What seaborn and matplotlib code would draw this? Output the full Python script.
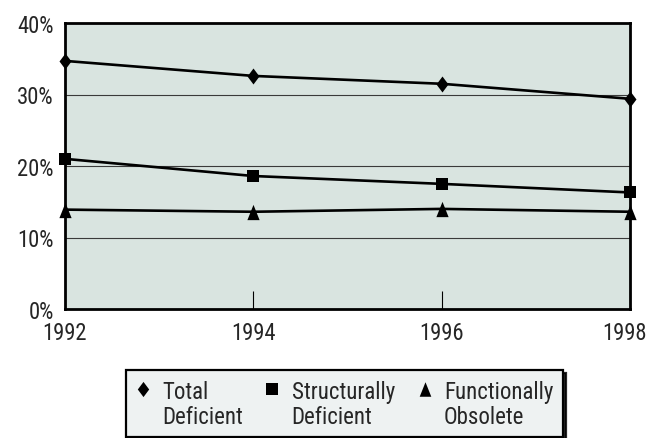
import matplotlib
matplotlib.use("Agg")
import matplotlib.pyplot as plt
from matplotlib import font_manager
from matplotlib.lines import Line2D
from matplotlib.legend_handler import HandlerLine2D
from matplotlib.path import Path
from matplotlib.transforms import ScaledTranslation
import numpy as np
import pandas as pd
import seaborn as sns

# Share of bridges rated deficient, by survey year
years = [1992, 1994, 1996, 1998]
total_deficient = [34.7, 32.6, 31.5, 29.4]
structurally_deficient = [21.0, 18.6, 17.5, 16.3]
functionally_obsolete = [13.9, 13.6, 14.0, 13.6]
series_names = ["Total\nDeficient", "Structurally\nDeficient", "Functionally\nObsolete"]
y_ticks = [0, 10, 20, 30, 40]
y_tick_labels = ["0%", "10%", "20%", "30%", "40%"]

sns.set_theme(style="white")


def narrow_font():
    """Return (family, stretch, is_narrow) of the best condensed sans face available."""
    fonts = font_manager.fontManager.ttflist
    by_name = {f.name: f for f in fonts}
    for name in ["Liberation Sans Narrow", "Arial Narrow", "Roboto Condensed",
                 "Open Sans Condensed", "Noto Sans Condensed", "DejaVu Sans Condensed"]:
        if name in by_name:
            return name, "normal", True
    for f in fonts:
        st = f.stretch
        cond = (isinstance(st, str) and "condensed" in st) or (isinstance(st, (int, float)) and st < 500)
        if cond and f.name in ("DejaVu Sans", "Noto Sans", "Open Sans", "Roboto", "Lato", "Inter"):
            return f.name, "condensed", True
    return "Liberation Sans", "normal", False


font_name, font_stretch, is_narrow = narrow_font()
plt.rcParams["font.family"] = [font_name, "DejaVu Sans"]
plt.rcParams["font.stretch"] = font_stretch
tick_size = 16.3 if is_narrow else 14
legend_size = 16.5 if is_narrow else 14

df = pd.DataFrame({
    "year": years * 3,
    "value": total_deficient + structurally_deficient + functionally_obsolete,
    "series": [series_names[0]] * 4 + [series_names[1]] * 4 + [series_names[2]] * 4,
})

diamond = Path([(0, 1), (0.75, 0), (0, -1), (-0.75, 0), (0, 1)],
               [Path.MOVETO, Path.LINETO, Path.LINETO, Path.LINETO, Path.CLOSEPOLY])
triangle = Path([(0, 1), (0.8, -1), (-0.8, -1), (0, 1)],
                [Path.MOVETO, Path.LINETO, Path.LINETO, Path.CLOSEPOLY])
marker_map = {series_names[0]: diamond, series_names[1]: "s", series_names[2]: triangle}
size_map = {series_names[0]: 11.5, series_names[1]: 9.0, series_names[2]: 11.0}

fig = plt.figure(figsize=(6.51, 4.39), dpi=100)
ax = fig.add_axes([65 / 651, 1 - 310 / 439, 565 / 651, 286 / 439])
ax.set_facecolor("#d9e4e0")

for name in series_names:
    sub = df[df["series"] == name]
    sns.lineplot(data=sub, x="year", y="value", ax=ax, color="black",
                 linewidth=1.9, marker=marker_map[name], markersize=size_map[name],
                 markeredgewidth=0, markerfacecolor="black", legend=False,
                 clip_on=False, zorder=5)

ax.set_xlim(1992, 1998)
ax.set_ylim(0, 40)
ax.set_xticks(years)
ax.set_xticklabels([str(y) for y in years])
ax.set_yticks(y_ticks)
ax.set_yticklabels(y_tick_labels)
ax.set_xlabel("")
ax.set_ylabel("")

for v in y_ticks[1:-1]:
    ax.axhline(v, color="#3a3a3a", linewidth=0.8, zorder=1)

for side in ["left", "right", "top", "bottom"]:
    ax.spines[side].set_visible(True)
    ax.spines[side].set_color("black")
    ax.spines[side].set_linewidth(2.0)
    ax.spines[side].set_zorder(6)

ax.tick_params(axis="x", direction="in", length=13, width=0.8, color="black",
               pad=9, labelsize=tick_size, bottom=True)
ax.tick_params(axis="y", length=0, pad=8, labelsize=tick_size, left=False)
# nudge the last year label a little left so it stays on the canvas
last = ax.xaxis.get_major_ticks()[-1].label1
last.set_transform(last.get_transform() + ScaledTranslation(-5 / 100, 0, fig.dpi_scale_trans))


class FirstLineHandler(HandlerLine2D):
    """Place the legend marker beside the first line of a two-line label."""

    def create_artists(self, legend, orig_handle, xdescent, ydescent, width,
                       height, fontsize, trans):
        artists = super().create_artists(legend, orig_handle, xdescent, ydescent,
                                         width, height, fontsize, trans)
        for a in artists:
            a.set_ydata(np.asarray(a.get_ydata(), dtype=float) + 0.68 * fontsize)
        return artists


handles = [Line2D([], [], linestyle="none", marker=marker_map[n], markersize=size_map[n] * 0.95,
                  markerfacecolor="black", markeredgewidth=0) for n in series_names]
leg = fig.legend(handles, series_names, loc="upper left",
                 bbox_to_anchor=(126 / 651, 1 - 371 / 439, 437 / 651, 0),
                 mode="expand", ncol=3, fontsize=legend_size, frameon=True, fancybox=False,
                 shadow={"color": "black", "alpha": 0.85}, borderpad=0.42,
                 handlelength=0.6, handletextpad=0.55, columnspacing=1.2,
                 borderaxespad=0, handler_map={Line2D: FirstLineHandler()})
frame = leg.get_frame()
frame.set_facecolor("#eef2f2")
frame.set_edgecolor("black")
frame.set_linewidth(1.6)
frame.set_alpha(1)
for t in leg.get_texts():
    t.set_linespacing(1.12)

fig.savefig("out.png", dpi=100)
